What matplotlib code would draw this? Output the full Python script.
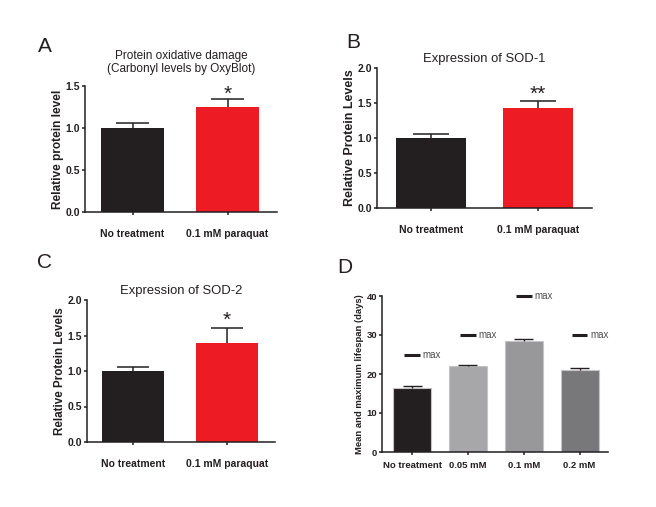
import matplotlib
matplotlib.use('Agg')
from matplotlib import pyplot as plt
import numpy as np

plt.rcParams['font.family'] = ['Liberation Sans', 'DejaVu Sans']

W, H = 656, 507
INK = '#231f20'
RED = '#ed1c24'

# panel A
a_labels = ['No treatment', '0.1 mM paraquat']
a_vals = [1.0, 1.25]
a_err = [0.06, 0.095]
a_stars = ['', '*']

# panel B
b_labels = ['No treatment', '0.1 mM paraquat']
b_vals = [1.0, 1.43]
b_err = [0.06, 0.10]
b_stars = ['', '**']

# panel C
c_labels = ['No treatment', '0.1 mM paraquat']
c_vals = [1.0, 1.40]
c_err = [0.06, 0.20]
c_stars = ['', '*']

# panel D
d_labels = ['No treatment', '0.05 mM', '0.1 mM', '0.2 mM']
d_mean = [16.4, 22.0, 28.5, 21.0]
d_err = [0.5, 0.4, 0.6, 0.5]
d_max = [25, 30, 40, 30]
d_colors = [INK, '#a7a7a9', '#98989b', '#78787b']


def px_axes(fig, left, right, top, bottom):
    return fig.add_axes([left / W, 1 - bottom / H, (right - left) / W, (bottom - top) / H])


def style(ax, tick_size):
    for s in ['top', 'right']:
        ax.spines[s].set_visible(False)
    for s in ['left', 'bottom']:
        ax.spines[s].set_linewidth(1.1)
        ax.spines[s].set_color(INK)
    ax.tick_params(direction='out', length=2.5, width=1.1, color=INK,
                   labelsize=tick_size, labelcolor=INK, pad=1)
    for t in ax.get_yticklabels() + ax.get_xticklabels():
        t.set_fontweight('bold')


def upper_err(ax, x, vals, err, cap, lw=1.1):
    x = np.asarray(x, float)
    top = np.asarray(vals) + np.asarray(err)
    ax.vlines(x, vals, top, color=INK, lw=lw, zorder=3)
    ax.hlines(top, x - cap, x + cap, color=INK, lw=lw, zorder=3)


def two_bar(ax, labels, vals, err, stars, ymax, yticks, xlim, ylabel, ysize, star_y):
    x = np.arange(len(vals))
    ax.bar(x, vals, width=0.66, color=[INK, RED], zorder=2)
    upper_err(ax, x, vals, err, 0.17)
    for xi, s in zip(x, stars):
        if s:
            ax.text(xi, star_y, s, ha='center', va='center', fontsize=15, color=INK)
    ax.set_xlim(*xlim)
    ax.set_ylim(0, ymax)
    ax.set_yticks(yticks)
    ax.set_yticklabels(['%.1f' % v for v in yticks])
    ax.set_xticks(x)
    ax.set_xticklabels(labels)
    ax.set_ylabel(ylabel, fontsize=ysize, fontweight='bold', color=INK, labelpad=1)
    style(ax, 7.5)
    ax.tick_params(axis='x', pad=10)


fig = plt.figure(figsize=(W / 100, H / 100), dpi=100)

# A
axA = px_axes(fig, 85, 277, 86, 212)
two_bar(axA, a_labels, a_vals, a_err, a_stars, 1.5, [0.0, 0.5, 1.0, 1.5],
        (-0.5, 1.52), 'Relative protein level', 8.6, 1.40)
axA.set_title('Protein oxidative damage\n(Carbonyl levels by OxyBlot)',
              fontsize=8.5, color=INK, pad=10, linespacing=1.15)

# B
axB = px_axes(fig, 377, 592, 68, 208)
two_bar(axB, b_labels, b_vals, b_err, b_stars, 2.0, [0.0, 0.5, 1.0, 1.5, 2.0],
        (-0.51, 1.51), 'Relative Protein Levels', 9, 1.63)
axB.set_title('Expression of SOD-1', fontsize=9.4, color=INK, pad=4)

# C
axC = px_axes(fig, 87, 275, 300, 442)
two_bar(axC, c_labels, c_vals, c_err, c_stars, 2.0, [0.0, 0.5, 1.0, 1.5, 2.0],
        (-0.49, 1.51), 'Relative Protein Levels', 8.4, 1.71)
axC.set_title('Expression of SOD-2', fontsize=9.4, color=INK, pad=4)

# D
axD = px_axes(fig, 382, 608, 296, 452)
xd = np.arange(len(d_mean))
axD.bar(xd, d_mean, width=0.68, color=d_colors, edgecolor='#c4c4c6', linewidth=0.8, zorder=2)
upper_err(axD, xd, d_mean, d_err, 0.17, lw=1.0)
axD.hlines(d_max, xd - 0.14, xd + 0.14, color=INK, lw=2.2, zorder=3, clip_on=False)
for xi, m in zip(xd, d_max):
    axD.text(xi + 0.19, m, 'max', ha='left', va='center', fontsize=7, color='#4d4d4f')
axD.set_xlim(-0.54, 3.51)
axD.set_ylim(0, 40)
axD.set_yticks([0, 10, 20, 30, 40])
axD.set_xticks(xd)
axD.set_xticklabels(d_labels)
axD.set_ylabel('Mean and maximum lifespan (days)', fontsize=6.8, fontweight='bold',
               color=INK, labelpad=2)
style(axD, 6.8)
axD.tick_params(axis='x', pad=4)

# panel letters
for letter, (lx, ly) in zip('ABCD', [(45, 52), (353, 48), (45, 268), (345, 273)]):
    fig.text(lx / W, 1 - ly / H, letter, fontsize=15, color=INK, ha='center', va='baseline')

fig.savefig('out.png', dpi=100)
